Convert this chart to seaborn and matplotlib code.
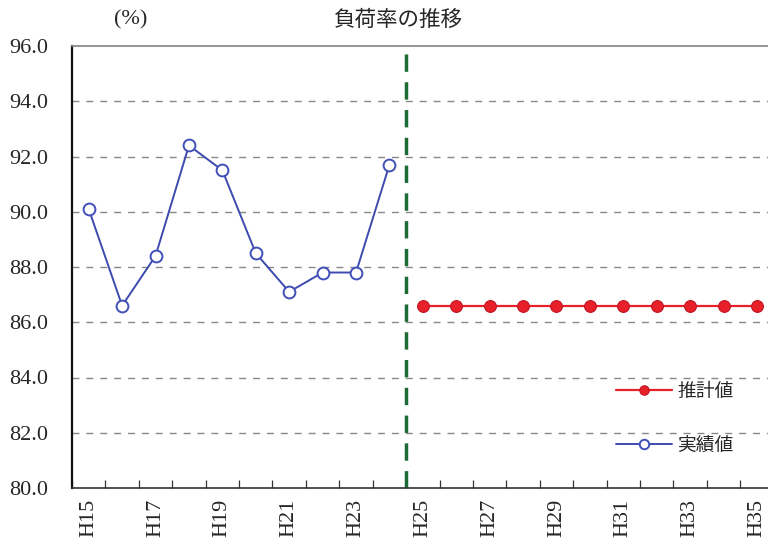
import matplotlib
matplotlib.use("Agg")
import matplotlib.pyplot as plt
import seaborn as sns
import pandas as pd
import numpy as np

years = [f"H{y}" for y in range(15, 36)]
actual_years = years[:10]
actual_values = [90.1, 86.6, 88.4, 92.4, 91.5, 88.5, 87.1, 87.8, 87.8, 91.7]
forecast_years = years[10:]
forecast_values = [86.6] * 11
title = "負荷率の推移"
unit = "(%)"
label_forecast = "推計値"
label_actual = "実績値"

sns.set_theme(style="white")
plt.rcParams['font.family'] = ['Noto Sans CJK JP', 'DejaVu Sans']

pos = {y: i for i, y in enumerate(years)}
df_a = pd.DataFrame({"x": [pos[y] for y in actual_years], "v": actual_values})
df_f = pd.DataFrame({"x": [pos[y] for y in forecast_years], "v": forecast_values})

fig = plt.figure(figsize=(7.68, 5.44), dpi=100)
ax = fig.add_axes([72/768, 56/544, 1 - 72/768, (488-46)/544])

sns.lineplot(data=df_f, x="x", y="v", ax=ax, color="#e8202a", marker="o",
             markersize=8.5, markerfacecolor="#e8202a", markeredgecolor="#c01020",
             linewidth=1.6, label=label_forecast)
sns.lineplot(data=df_a, x="x", y="v", ax=ax, color="#3d4aae", marker="o",
             markersize=8.5, markerfacecolor="white", markeredgecolor="#4050b8",
             markeredgewidth=1.4, linewidth=1.4, label=label_actual)

ax.axvline(9.5, color="#1d6b34", linewidth=2.5, linestyle=(0, (5, 3.0)), zorder=1)

ax.set_xlim(-0.5, 20.33)
ax.set_ylim(80, 96)
ax.set_yticks(np.arange(80, 96.1, 2))
ax.set_yticklabels([f"{v:.1f}" for v in np.arange(80, 96.1, 2)],
                   fontfamily="Liberation Serif", fontsize=16)
for v in np.arange(82, 95, 2):
    ax.axhline(v, color="#888888", linewidth=1.0, linestyle=(0, (5, 5)), zorder=0)

ax.set_xticks(range(0, 21, 2))
ax.set_xticklabels(years[::2], rotation=90, fontfamily="Liberation Serif", fontsize=16)
ax.set_xticks(np.arange(-0.5, 20.5, 1), minor=True)
ax.tick_params(axis="x", which="major", bottom=False, length=0, pad=8)
ax.tick_params(axis="x", which="minor", bottom=True, direction="in", length=6,
               color="#333333", width=0.9)
ax.tick_params(axis="y", length=0, pad=17)
ax.set_xlabel("")
ax.set_ylabel("")

ax.spines["right"].set_visible(False)
ax.spines["top"].set_color("#888888")
ax.spines["left"].set_color("#111111")
ax.spines["left"].set_linewidth(1.6)
ax.spines["bottom"].set_color("#333333")
ax.spines["bottom"].set_linewidth(1.2)

fig.text(398/768, 1 - 20/544, title, ha="center", va="center", fontsize=15.5)
fig.text(131/768, 1 - 20/544, unit, ha="center", va="center", fontsize=16,
         fontfamily="Liberation Serif")

leg = ax.legend(loc="lower right", bbox_to_anchor=(0.975, 0.035), frameon=False,
                fontsize=13.5, handlelength=3.0, labelspacing=1.75, handletextpad=0.3,
                markerscale=0.8)

fig.savefig("out.png", dpi=100)
